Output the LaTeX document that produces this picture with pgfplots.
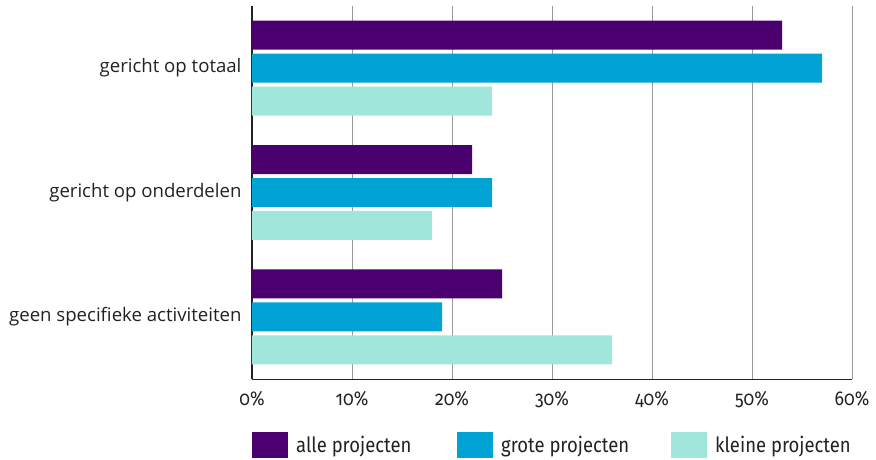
\documentclass[border=0pt]{standalone}
\usepackage{fontspec}
\setmainfont{Open Sans}
\newfontfamily\tickfont[Numbers=OldStyle,FakeStretch=0.88]{Fira Sans}
\usepackage{pgfplots}
\pgfplotsset{compat=1.18}
\definecolor{cPurple}{HTML}{4A006E}
\definecolor{cBlue}{HTML}{00A3D4}
\definecolor{cAqua}{HTML}{A0E6DA}
\definecolor{cGrid}{HTML}{9A9A9A}
\definecolor{cText}{HTML}{222222}
\begin{document}
\begin{tikzpicture}
\path[use as bounding box] (0,0) rectangle (876pt,459pt);
\begin{axis}[
    at={(252pt,80pt)}, anchor=south west,
    scale only axis, width=600pt, height=373pt,
    xbar, bar width=0.233,
    xmin=0, xmax=60, ymin=-0.5, ymax=2.5,
    axis x line*=bottom, axis y line*=left,
    x axis line style={cText, line width=1pt},
    y axis line style={cText, line width=1.5pt},
    xtick={0,10,...,60},
    xticklabels={0\%,10\%,20\%,30\%,40\%,50\%,60\%},
    xticklabel style={font=\tickfont\fontsize{20}{22}\selectfont, text=cText, yshift=-9pt},
    ytick={0,1,2},
    yticklabels={geen specifieke activiteiten, gericht op onderdelen, gericht op totaal},
    yticklabel style={font=\fontsize{18.6}{22}\selectfont, text=cText, xshift=-7pt},
    major tick length=0pt,
    xmajorgrids, grid style={cGrid, line width=1pt},
    clip=false,
    legend columns=3,
    legend style={at={(0,-0.142)}, anchor=north west, draw=none, inner sep=0pt,
        font=\tickfont\fontsize{21}{24}\selectfont, text=cText,
        /tikz/every even column/.append style={column sep=0pt}},
    legend cell align=left,
    legend image code/.code={\fill[#1] (0pt,-13pt) rectangle (36pt,13pt);},
]
\addplot[draw=none, fill=cPurple, bar shift=0.265] coordinates {(25,0) (22,1) (53,2)};
\addplot[draw=none, fill=cBlue, bar shift=0] coordinates {(19,0) (24,1) (57,2)};
\addplot[draw=none, fill=cAqua, bar shift=-0.265] coordinates {(36,0) (18,1) (24,2)};
\legend{\makebox[165pt][l]{\hspace{6pt}alle projecten}, \makebox[174pt][l]{\hspace{6pt}grote projecten}, \hspace{6pt}kleine projecten}
\end{axis}
\end{tikzpicture}
\end{document}
